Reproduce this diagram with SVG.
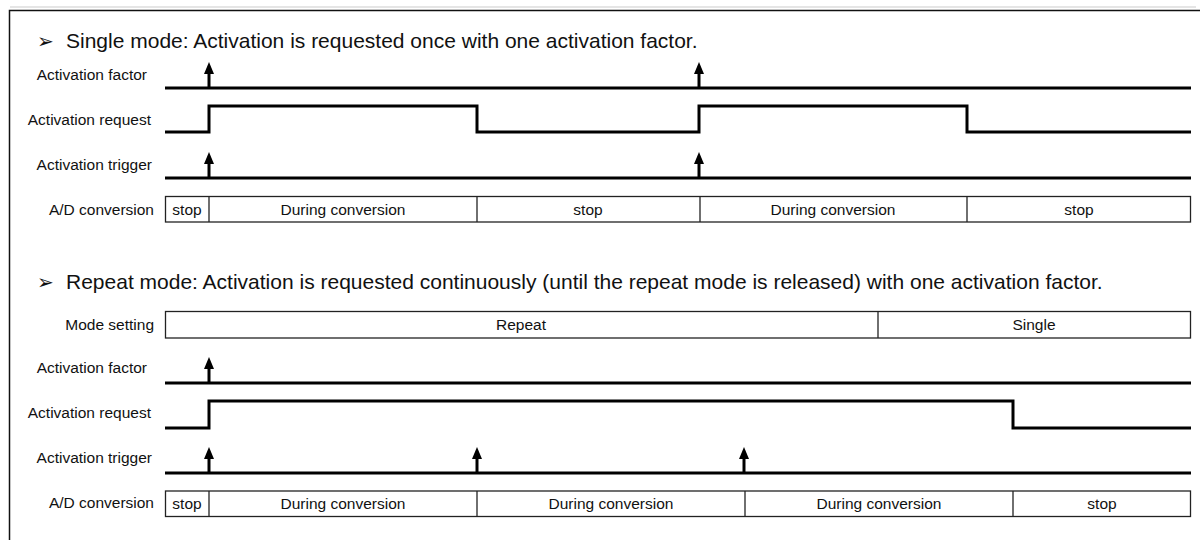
<svg xmlns="http://www.w3.org/2000/svg" width="1200" height="540" viewBox="0 0 1200 540">
<style>
.hd{font-family:"Liberation Sans",Arial,sans-serif;font-size:21px;fill:#111}
.bl{font-family:"DejaVu Sans",sans-serif;font-size:20px;fill:#111}
.lb{font-family:"Liberation Sans",Arial,sans-serif;font-size:15.5px;fill:#111;text-anchor:end}
.bx{font-family:"Liberation Sans",Arial,sans-serif;font-size:15.5px;fill:#111;text-anchor:middle}
.sig{fill:none;stroke:#000;stroke-width:3;stroke-linejoin:miter}
.box{fill:#fff;stroke:#222;stroke-width:1.3}
.dv{stroke:#222;stroke-width:1.3}
</style>
<defs>
<g id="arr"><line x1="0" y1="0" x2="0" y2="-16" stroke="#000" stroke-width="3"/><polygon points="-5,-14 5,-14 0,-26" fill="#000"/></g>
</defs>
<rect width="1200" height="540" fill="#fff"/>
<line x1="10" y1="7" x2="1196" y2="7" stroke="#ccc" stroke-width="1.2"/>
<path d="M9.5,541 V10.5 H1201" fill="none" stroke="#111" stroke-width="1.5"/>

<g id="single-mode">
<text class="bl" x="37" y="48">➢</text>
<text class="hd" x="66" y="48">Single mode: Activation is requested once with one activation factor.</text>
</g>
<g id="s1-labels">
<text class="lb" x="147" y="80">Activation factor</text>
<text class="lb" x="151" y="125">Activation request</text>
<text class="lb" x="152" y="170">Activation trigger</text>
<text class="lb" x="154" y="215">A/D conversion</text>
</g>
<g id="connectors">
<path class="sig" d="M165,88 H1191"/>
<path class="sig" d="M165,132 H209 V106 H477 V132 H699 V106 H967 V132 H1191"/>
<path class="sig" d="M165,178 H1191"/>
<use href="#arr" x="209" y="88"/>
<use href="#arr" x="699" y="88"/>
<use href="#arr" x="209" y="178"/>
<use href="#arr" x="699" y="178"/>

<path class="sig" d="M165,383 H1191"/>
<path class="sig" d="M165,428 H209 V401 H1013 V428 H1191"/>
<path class="sig" d="M165,473 H1191"/>
<use href="#arr" x="209" y="383"/>
<use href="#arr" x="209" y="473"/>
<use href="#arr" x="477" y="473"/>
<use href="#arr" x="744" y="473"/>
</g>
<g id="s1-conversion">
<rect class="box" x="165.5" y="196.5" width="1025" height="25.5"/>
<line class="dv" x1="209" y1="196.5" x2="209" y2="222"/>
<line class="dv" x1="477" y1="196.5" x2="477" y2="222"/>
<line class="dv" x1="700" y1="196.5" x2="700" y2="222"/>
<line class="dv" x1="967" y1="196.5" x2="967" y2="222"/>
<text class="bx" x="187" y="215">stop</text>
<text class="bx" x="343" y="215">During conversion</text>
<text class="bx" x="588" y="215">stop</text>
<text class="bx" x="833" y="215">During conversion</text>
<text class="bx" x="1079" y="215">stop</text>
</g>

<g id="repeat-mode">
<text class="bl" x="37" y="289">➢</text>
<text class="hd" x="66" y="289">Repeat mode: Activation is requested continuously (until the repeat mode is released) with one activation factor.</text>
</g>
<g id="s2-labels">
<text class="lb" x="154" y="330">Mode setting</text>
<text class="lb" x="147" y="373">Activation factor</text>
<text class="lb" x="151" y="418">Activation request</text>
<text class="lb" x="152" y="463">Activation trigger</text>
<text class="lb" x="154" y="508">A/D conversion</text>
</g>
<g id="s2-mode">
<rect class="box" x="165.5" y="311.5" width="1025" height="26.5"/>
<line class="dv" x1="878" y1="311.5" x2="878" y2="338"/>
<text class="bx" x="521" y="330">Repeat</text>
<text class="bx" x="1034" y="330">Single</text>
</g>
<g id="s2-conversion">
<rect class="box" x="165.5" y="491" width="1025" height="25.5"/>
<line class="dv" x1="209" y1="491" x2="209" y2="516.5"/>
<line class="dv" x1="477" y1="491" x2="477" y2="516.5"/>
<line class="dv" x1="745" y1="491" x2="745" y2="516.5"/>
<line class="dv" x1="1013" y1="491" x2="1013" y2="516.5"/>
<text class="bx" x="187" y="509">stop</text>
<text class="bx" x="343" y="509">During conversion</text>
<text class="bx" x="611" y="509">During conversion</text>
<text class="bx" x="879" y="509">During conversion</text>
<text class="bx" x="1102" y="509">stop</text>
</g>
</svg>
